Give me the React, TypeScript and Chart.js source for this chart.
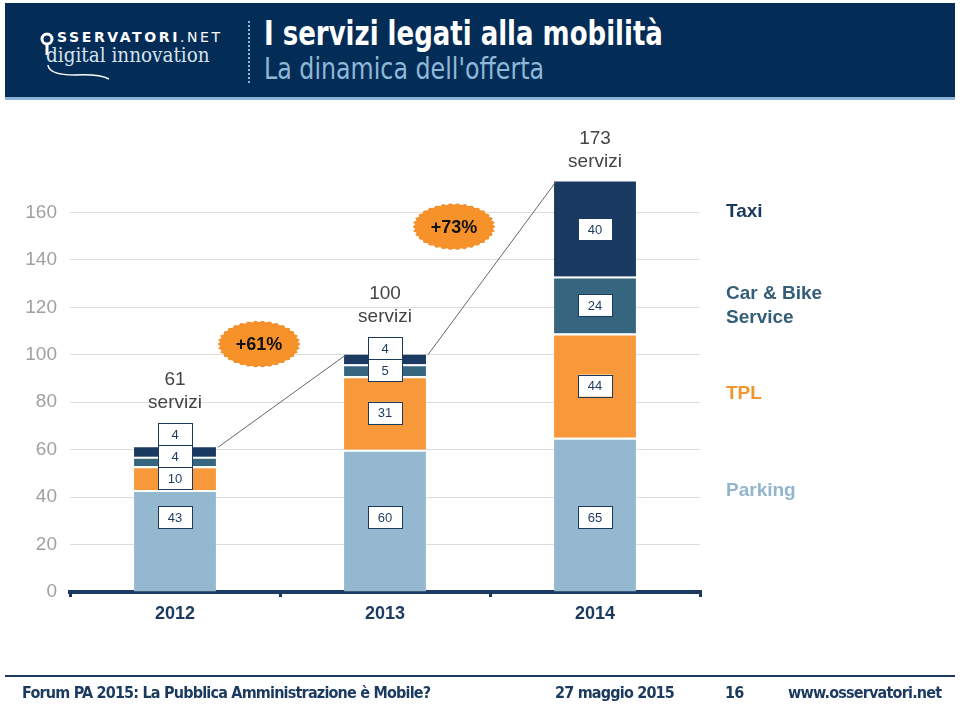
import React, { useEffect, useRef } from "react";
import { Chart, registerables } from "chart.js";

Chart.register(...registerables);

// ---- data ----
const years = ["2012", "2013", "2014"];
const seriesNames = ["Parking", "TPL", "Car & Bike Service", "Taxi"];
const parking = [43, 60, 65];
const tpl = [10, 31, 44];
const carBike = [4, 5, 24];
const taxi = [4, 4, 40];
const totals = [61, 100, 173];
const growthLabels = ["+61%", "+73%"];
const yTickValues = [0, 20, 40, 60, 80, 100, 120, 140, 160];

// ---- styles ----
const COLORS = ["#93B8D0", "#F7993A", "#366580", "#1A3A62"];
const LEGEND_COLORS = ["#93B6CE", "#F0952F", "#345D78", "#1B3A5F"];
const NAVY = "#1B3A5F";
const FONT = "'Liberation Sans', Arial, Helvetica, sans-serif";

function drawBurst(ctx: CanvasRenderingContext2D, cx: number, cy: number, rx: number, ry: number, text: string) {
  const teeth = 34;
  ctx.save();
  ctx.beginPath();
  for (let i = 0; i <= teeth * 2; i++) {
    const a = (i / (teeth * 2)) * Math.PI * 2;
    const f = i % 2 === 0 ? 1 : 0.93;
    const x = cx + Math.cos(a) * rx * f;
    const y = cy + Math.sin(a) * ry * f;
    if (i === 0) ctx.moveTo(x, y);
    else ctx.lineTo(x, y);
  }
  ctx.closePath();
  ctx.fillStyle = "#F7922B";
  ctx.fill();
  ctx.strokeStyle = "#F08A1F";
  ctx.lineWidth = 1;
  ctx.stroke();
  ctx.fillStyle = "#111";
  ctx.font = `bold 18px ${FONT}`;
  ctx.textAlign = "center";
  ctx.textBaseline = "middle";
  ctx.fillText(text, cx, cy + 1);
  ctx.restore();
}

const annotationPlugin = {
  id: "annotations",
  afterDatasetsDraw(chart: any) {
    const ctx: CanvasRenderingContext2D = chart.ctx;
    const x = chart.scales.x;
    const y = chart.scales.y;
    const nCat = chart.data.labels.length;
    const boxW = 34;
    const boxH = 22;
    const BASE_LABEL_VALUE = 31.5;
    const barEdges: { left: number; right: number; top: number }[] = [];

    for (let i = 0; i < nCat; i++) {
      const el0 = chart.getDatasetMeta(0).data[i];
      const cx = el0.x;
      const half = el0.width / 2;
      let base = 0;
      let prevY = Infinity;
      let topBox = Infinity;
      chart.data.datasets.forEach((ds: any, di: number) => {
        const v = ds.data[i];
        let cy: number;
        if (di === 0) {
          cy = y.getPixelForValue(BASE_LABEL_VALUE);
        } else {
          const center = y.getPixelForValue(base + v / 2);
          cy = Math.min(center, prevY - boxH);
        }
        base += v;
        prevY = cy;
        topBox = Math.min(topBox, cy - boxH / 2);
        ctx.save();
        ctx.fillStyle = "#ffffff";
        ctx.fillRect(cx - boxW / 2, cy - boxH / 2, boxW, boxH);
        ctx.strokeStyle = NAVY;
        ctx.lineWidth = 1;
        ctx.strokeRect(Math.round(cx - boxW / 2) + 0.5, Math.round(cy - boxH / 2) + 0.5, boxW, boxH);
        ctx.fillStyle = NAVY;
        ctx.font = `13px ${FONT}`;
        ctx.textAlign = "center";
        ctx.textBaseline = "middle";
        ctx.fillText(String(v), cx, cy + 1);
        ctx.restore();
      });
      const barTop = y.getPixelForValue(totals[i]);
      barEdges.push({ left: cx - half, right: cx + half, top: barTop });
      const anchor = Math.min(barTop, topBox) - 16;
      ctx.save();
      ctx.fillStyle = "#444";
      ctx.font = `19px ${FONT}`;
      ctx.textAlign = "center";
      ctx.textBaseline = "middle";
      ctx.fillText("servizi", cx, anchor - 4);
      ctx.fillText(String(totals[i]), cx, anchor - 27);
      ctx.restore();
    }

    ctx.save();
    ctx.strokeStyle = "#666";
    ctx.lineWidth = 1;
    for (let i = 0; i < nCat - 1; i++) {
      const a = barEdges[i];
      const b = barEdges[i + 1];
      ctx.beginPath();
      ctx.moveTo(a.right + 2, a.top);
      ctx.lineTo(b.left + 2, b.top);
      ctx.stroke();
    }
    ctx.restore();

    const badgeOffsets = [
      { dx: -21, value: 104.5 },
      { dx: -36, value: 154 },
    ];
    for (let i = 0; i < nCat - 1; i++) {
      const mid = (x.getPixelForValue(i) + x.getPixelForValue(i + 1)) / 2;
      drawBurst(ctx, mid + badgeOffsets[i].dx, y.getPixelForValue(badgeOffsets[i].value), 41, 23, growthLabels[i]);
    }
  },
};

function ChartCanvas() {
  const ref = useRef<HTMLCanvasElement | null>(null);
  useEffect(() => {
    if (!ref.current) return;
    const seriesData = [parking, tpl, carBike, taxi];
    const chart = new Chart(ref.current, {
      type: "bar",
      data: {
        labels: years,
        datasets: seriesData.map((d, i) => ({
          label: seriesNames[i],
          data: d,
          backgroundColor: COLORS[i],
          borderColor: "#ffffff",
          borderWidth: i === seriesData.length - 1 ? 0 : { top: 2, left: 0, right: 0, bottom: 0 },
          borderSkipped: false,
          barPercentage: 0.39,
          categoryPercentage: 1,
        })),
      },
      options: {
        responsive: false,
        animation: false,
        layout: { padding: { top: 165, right: 260, bottom: 74, left: 0 } },
        plugins: { legend: { display: false }, tooltip: { enabled: false } },
        scales: {
          x: {
            stacked: true,
            grid: {
              display: true,
              drawOnChartArea: false,
              drawTicks: true,
              tickLength: 5,
              color: NAVY,
              lineWidth: 3,
            },
            border: { display: true, color: NAVY, width: 4 },
            ticks: {
              color: NAVY,
              font: { family: FONT, size: 18, weight: "bold" },
              padding: 6,
            },
            afterFit: (s: any) => {
              s.height = 40;
            },
          },
          y: {
            stacked: true,
            min: 0,
            max: 180,
            afterBuildTicks: (s: any) => {
              s.ticks = yTickValues.map((v) => ({ value: v }));
            },
            ticks: {
              color: "#A0A0A0",
              font: { family: FONT, size: 19 },
              padding: 13,
            },
            grid: {
              color: (c: any) => (c.tick && c.tick.value === 0 ? "rgba(0,0,0,0)" : "#DDDDDD"),
              drawTicks: false,
              lineWidth: 1,
            },
            border: { display: false },
            afterFit: (s: any) => {
              s.width = 70;
            },
          },
        },
      },
      plugins: [annotationPlugin],
    } as any);
    return () => chart.destroy();
  }, []);
  return <canvas ref={ref} width={960} height={706} style={{ position: "absolute", left: 0, top: 0, width: 960, height: 706 }} />;
}

const legendItems = [
  { lines: ["Taxi"], color: LEGEND_COLORS[3], top: 199 },
  { lines: ["Car & Bike", "Service"], color: LEGEND_COLORS[2], top: 281 },
  { lines: ["TPL"], color: LEGEND_COLORS[1], top: 381 },
  { lines: ["Parking"], color: LEGEND_COLORS[0], top: 478 },
];

const footerFont = {
  fontFamily: "'DejaVu Sans Condensed', 'DejaVu Sans', sans-serif",
  fontWeight: "bold" as const,
  fontSize: 16,
  letterSpacing: -0.8,
};

export default function App() {
  return (
    <div style={{ position: "fixed", left: 0, top: 0, width: 960, height: 706, background: "#fff", overflow: "hidden" }}>
      <ChartCanvas />
      {/* header */}
      <div style={{ position: "absolute", left: 5, top: 3, width: 950, height: 94, background: "#032D57", borderBottom: "3px solid #8DB3D6" }}>
        <svg width="240" height="94" style={{ position: "absolute", left: 0, top: 0 }}>
          <circle cx="42" cy="36" r="5" fill="none" stroke="#fff" strokeWidth="3" />
          <line x1="42" y1="41" x2="42" y2="52" stroke="#fff" strokeWidth="3" />
          <path d="M 43 62 Q 44 72 70 72 Q 95 71 104 76" fill="none" stroke="#fff" strokeWidth="1.5" />
        </svg>
        <div style={{ position: "absolute", left: 52, top: 26, color: "#fff", fontFamily: "'DejaVu Sans', sans-serif", fontSize: 14, letterSpacing: 2.6, whiteSpace: "nowrap" }}>
          <span style={{ fontWeight: "bold" }}>SSERVATORI</span>
          <span>.NET</span>
        </div>
        <div style={{ position: "absolute", left: 41, top: 40, color: "#D5E3EF", fontFamily: "'DejaVu Serif', 'Liberation Serif', serif", fontSize: 20, whiteSpace: "nowrap", transform: "scaleX(0.92)", transformOrigin: "left" }}>
          digital innovation
        </div>
        <div style={{ position: "absolute", left: 243, top: 18, height: 62, borderLeft: "2px dotted #8DB3D6" }} />
        <div style={{ position: "absolute", left: 259, top: 10, color: "#fff", fontFamily: "'DejaVu Sans Condensed', 'DejaVu Sans', sans-serif", fontWeight: "bold", fontSize: 34, whiteSpace: "nowrap", transform: "scaleX(0.85)", transformOrigin: "left" }}>
          I servizi legati alla mobilità
        </div>
        <div style={{ position: "absolute", left: 259, top: 48, color: "#8FB8D8", fontFamily: "'DejaVu Sans Condensed', 'DejaVu Sans', sans-serif", fontSize: 30, whiteSpace: "nowrap", transform: "scaleX(0.88)", transformOrigin: "left" }}>
          La dinamica dell'offerta
        </div>
      </div>
      {/* legend */}
      {legendItems.map((it, i) => (
        <div key={i} style={{ position: "absolute", left: 726, top: it.top, color: it.color, fontFamily: FONT, fontWeight: "bold", fontSize: 19, lineHeight: "24px", whiteSpace: "nowrap" }}>
          {it.lines.map((l, j) => (
            <div key={j}>{l}</div>
          ))}
        </div>
      ))}
      {/* footer */}
      <div style={{ position: "absolute", left: 5, top: 675, width: 950, height: 2, background: NAVY }} />
      <div style={{ position: "absolute", top: 683, left: 0, width: 960, color: NAVY, whiteSpace: "nowrap", ...footerFont }}>
        <span style={{ position: "absolute", left: 22 }}>Forum PA 2015: La Pubblica Amministrazione è Mobile?</span>
        <span style={{ position: "absolute", left: 555 }}>27 maggio 2015</span>
        <span style={{ position: "absolute", left: 725 }}>16</span>
        <span style={{ position: "absolute", left: 788 }}>www.osservatori.net</span>
      </div>
    </div>
  );
}
